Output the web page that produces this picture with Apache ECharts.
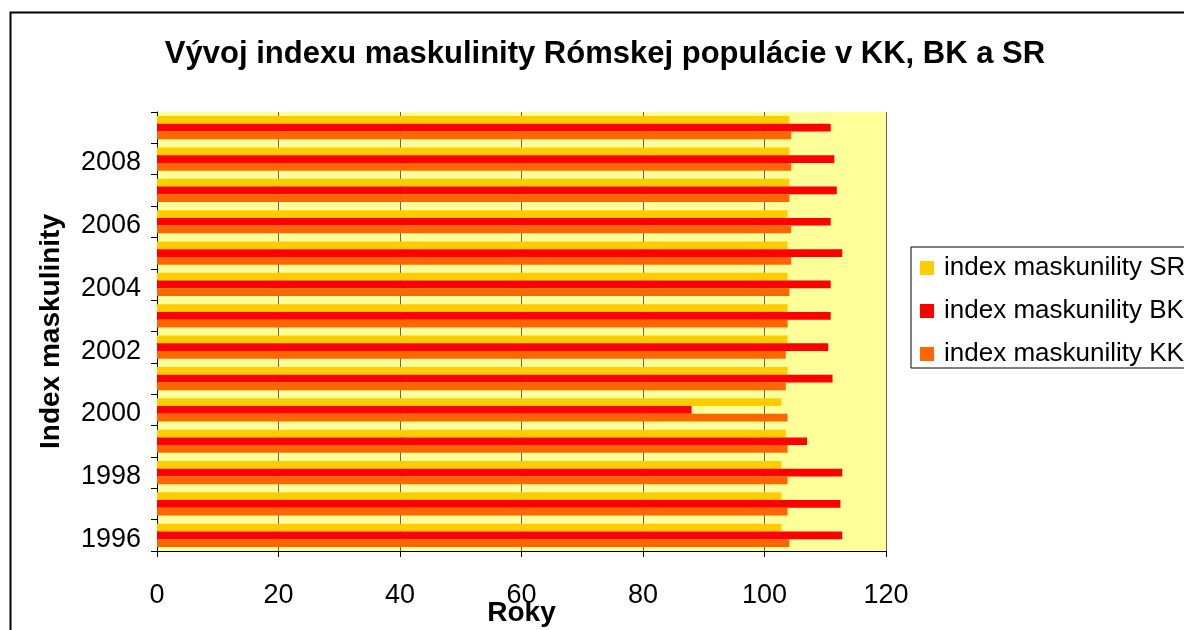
<!DOCTYPE html>
<html>
<head>
<meta charset="utf-8">
<script src="https://cdn.jsdelivr.net/npm/echarts@6/dist/echarts.min.js"></script>
<style>
  html, body { margin: 0; padding: 0; background: #fff; }
  #chart { width: 1184px; height: 630px; }
</style>
</head>
<body>
<div id="chart"></div>
<script>
const years = ['1996', '1997', '1998', '1999', '2000', '2001', '2002', '2003', '2004', '2005', '2006', '2007', '2008', '2009'];
const indexSR = [102.8, 102.8, 102.8, 103.5, 102.8, 103.8, 103.8, 103.8, 103.8, 103.8, 103.8, 104.1, 104.1, 104.1];
const indexBK = [112.8, 112.5, 112.8, 107.0, 88.0, 111.2, 110.5, 110.9, 110.9, 112.8, 110.9, 111.9, 111.5, 110.9];
const indexKK = [104.1, 103.8, 103.8, 103.8, 103.8, 103.5, 103.5, 103.8, 104.1, 104.4, 104.4, 104.1, 104.4, 104.4];

const font = 'Liberation Sans, Arial, sans-serif';

const chart = echarts.init(document.getElementById('chart'));

chart.setOption({
  animation: false,
  backgroundColor: '#fff',
  title: {
    text: 'Vývoj indexu maskulinity Rómskej populácie v KK, BK a SR',
    left: 600,
    textAlign: 'center',
    top: 34,
    textStyle: { fontFamily: font, fontSize: 31, fontWeight: 'bold', color: '#000' }
  },
  legend: {
    orient: 'vertical',
    left: 911,
    top: 247,
    padding: [7, 10, 0, 9],
    itemWidth: 14,
    itemHeight: 14,
    itemGap: 15,
    borderColor: '#000',
    borderWidth: 1,
    icon: 'rect',
    data: ['index maskunility SR', 'index maskunility BK', 'index maskunility KK'],
    textStyle: { fontFamily: font, fontSize: 26, color: '#000', lineHeight: 28, padding: [0, 0, 0, 5] }
  },
  grid: {
    left: 157,
    right: 298,
    top: 112,
    bottom: 79,
    outerBoundsMode: 'none',
    containLabel: false,
    show: true,
    backgroundColor: '#FFFF99',
    borderWidth: 0
  },
  xAxis: {
    type: 'value',
    min: 0,
    max: 120,
    interval: 20,
    name: 'Roky',
    nameLocation: 'middle',
    nameMoveOverlap: false,
    nameGap: 48,
    nameTextStyle: { fontFamily: font, fontSize: 28, fontWeight: 'bold', color: '#000' },
    axisLine: { show: true, lineStyle: { color: '#000', width: 1 } },
    axisTick: { show: true, length: 6, lineStyle: { color: '#000' } },
    axisLabel: { fontFamily: font, fontSize: 27, color: '#000', margin: 31 },
    splitLine: { show: true, lineStyle: { color: '#666', width: 1 } }
  },
  yAxis: {
    type: 'category',
    data: years,
    name: 'Index maskulinity',
    nameLocation: 'middle',
    nameMoveOverlap: false,
    nameGap: 92,
    nameTextStyle: { fontFamily: font, fontSize: 28, fontWeight: 'bold', color: '#000' },
    axisLine: { show: true, lineStyle: { color: '#000', width: 1 } },
    axisTick: { show: true, interval: 0, length: 6, lineStyle: { color: '#000' } },
    axisLabel: {
      interval: 1,
      margin: 16,
      formatter: '{v|{value}}',
      rich: { v: { fontFamily: font, fontSize: 27, color: '#000', padding: [8, 0, 0, 0] } }
    },
    splitLine: { show: false }
  },
  graphic: [{
    type: 'rect',
    left: 8,
    top: 10,
    shape: { width: 1300, height: 700 },
    style: { fill: 'none', stroke: '#000', lineWidth: 2 },
    silent: true
  }],
  series: [
    { name: 'index maskunility SR', type: 'bar', data: indexSR, barGap: '0%', barCategoryGap: '26%', itemStyle: { color: '#FFCC00' } },
    { name: 'index maskunility BK', type: 'bar', data: indexBK, barGap: '0%', barCategoryGap: '26%', itemStyle: { color: '#FF0000' } },
    { name: 'index maskunility KK', type: 'bar', data: indexKK, barGap: '0%', barCategoryGap: '26%', itemStyle: { color: '#FF6600' } }
  ]
});
</script>
</body>
</html>
